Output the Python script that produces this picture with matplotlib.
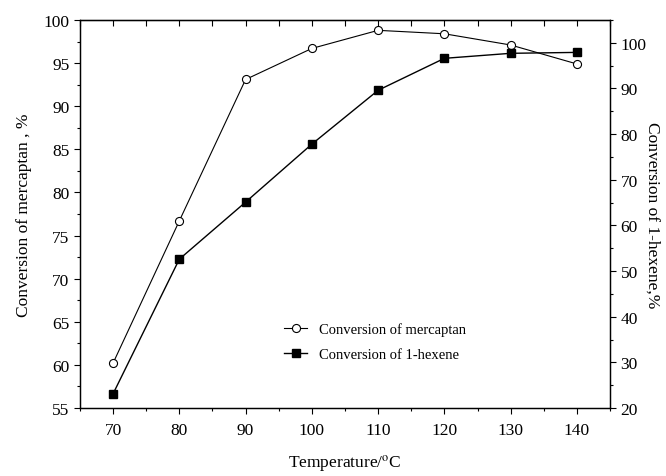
import matplotlib
matplotlib.use("Agg")
import matplotlib.pyplot as plt
from matplotlib.ticker import MultipleLocator

plt.rcParams["font.family"] = ["Liberation Serif", "DejaVu Serif"]
plt.rcParams["mathtext.fontset"] = "stix"

temperature = [70, 80, 90, 100, 110, 120, 130, 140]
mercaptan_conv = [60.2, 76.7, 93.1, 96.7, 98.8, 98.4, 97.1, 94.9]
hexene_conv = [23.1, 52.6, 65.1, 77.8, 89.6, 96.6, 97.7, 97.9]

fig = plt.figure(figsize=(6.66, 4.77), dpi=100)
ax = fig.add_axes([0.120, 0.1426, 0.796, 0.8134])
ax2 = ax.twinx()

l1, = ax.plot(temperature, mercaptan_conv, color="black", lw=0.8,
              marker="o", ms=5.8, mfc="white", mec="black", mew=0.8,
              label="Conversion of mercaptan")
l2, = ax2.plot(temperature, hexene_conv, color="black", lw=1.0,
               marker="s", ms=6.0, mfc="black", mec="black",
               label="Conversion of 1-hexene")

ax.set_xlim(65, 145)
ax.set_ylim(55, 100)
ax2.set_ylim(20, 105)

ax.xaxis.set_major_locator(MultipleLocator(10))
ax.xaxis.set_minor_locator(MultipleLocator(5))
ax.yaxis.set_major_locator(MultipleLocator(5))
ax.yaxis.set_minor_locator(MultipleLocator(2.5))
ax2.yaxis.set_major_locator(MultipleLocator(10))
ax2.yaxis.set_minor_locator(MultipleLocator(5))

ax.tick_params(axis="x", which="major", direction="out", length=4, width=0.8,
               labelsize=12.5, top=False, pad=6)
ax.tick_params(axis="x", which="minor", direction="out", length=2.5, width=0.8,
               top=False)
ax.tick_params(axis="y", which="major", direction="out", length=4, width=0.8,
               labelsize=12.5)
ax.tick_params(axis="y", which="minor", direction="out", length=2.5, width=0.8)
ax2.tick_params(axis="y", which="major", direction="out", length=4, width=0.8,
                labelsize=12.5)
ax2.tick_params(axis="y", which="minor", direction="out", length=2.5, width=0.8)

# top spine: inward ticks every 5 degrees, no labels
top = ax.secondary_xaxis("top")
top.xaxis.set_major_locator(MultipleLocator(5))
top.tick_params(direction="in", length=4, width=0.8, labeltop=False)

for a in (ax, ax2):
    for s in a.spines.values():
        s.set_linewidth(0.9)

ax.set_xlabel(r"Temperature/$^{\rm o}$C", fontsize=12.5, labelpad=10)
ax.set_ylabel("Conversion of mercaptan , %", fontsize=12.5, labelpad=8)
ax2.set_ylabel("Conversion of 1-hexene,%", fontsize=12.5, rotation=-90,
               labelpad=10)

ax.legend(handles=[l1, l2], loc="upper left", bbox_to_anchor=(0.36, 0.255),
          frameon=False, fontsize=10.5, handlelength=1.6, handletextpad=0.8,
          labelspacing=0.8)

fig.savefig("out.png", dpi=100)
